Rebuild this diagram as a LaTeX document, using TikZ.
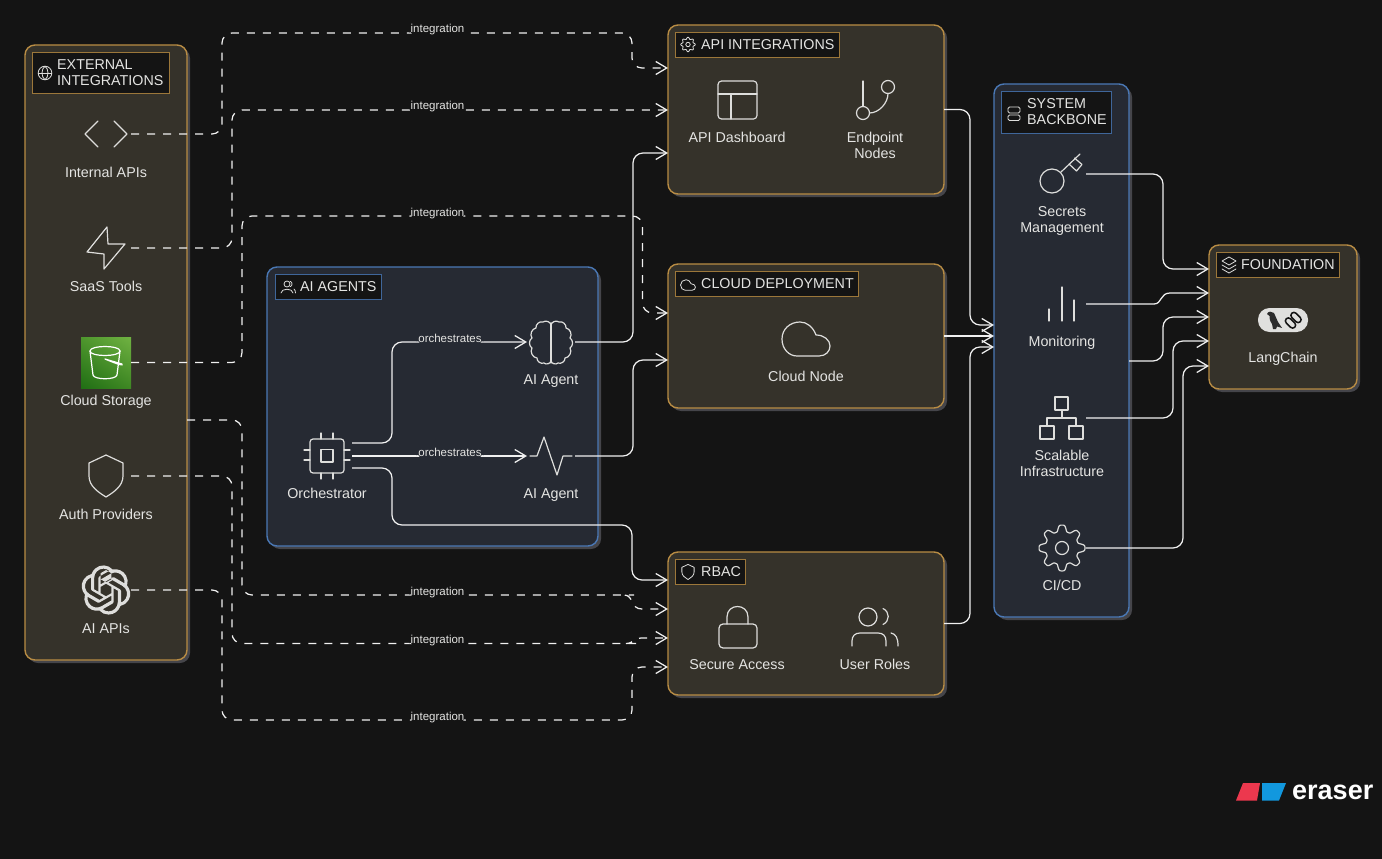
\documentclass[tikz,border=0pt]{standalone}
\usepackage{fontspec}
\setmainfont{Liberation Sans}
\usetikzlibrary{arrows.meta,shadows,shadings,svg.path}
\definecolor{bgc}{HTML}{141414}
\definecolor{orfill}{HTML}{35322A}
\definecolor{orline}{HTML}{B88C44}
\definecolor{blfill}{HTML}{262A33}
\definecolor{blline}{HTML}{4A78B5}
\definecolor{shc}{HTML}{45454A}
\definecolor{txtc}{HTML}{E4E4E2}
\definecolor{linec}{HTML}{F0F0F0}
\definecolor{icc}{HTML}{DEDEDC}
\definecolor{gll}{HTML}{206E14}
\definecolor{gur}{HTML}{70B242}
\definecolor{gul}{HTML}{4E962D}
\definecolor{glr}{HTML}{3E8723}
\definecolor{logor}{HTML}{EC384E}
\definecolor{logob}{HTML}{1298DE}
\newcommand\st{\rule[-3.5pt]{0pt}{14pt}}
\tikzset{
 grp/.style={rounded corners=10pt,line width=1.4pt,outer sep=0pt,inner sep=0pt,anchor=north west,
   drop shadow={shadow xshift=3pt,shadow yshift=-3pt,fill=shc,opacity=1}},
 orgrp/.style={grp,draw=orline,fill=orfill},
 blgrp/.style={grp,draw=blline,fill=blfill},
 ttl/.style={line width=.6pt,fill=bgc,outer sep=0pt,inner sep=0pt,anchor=north west},
 ortt/.style={ttl,draw=orline!85!black},
 bltt/.style={ttl,draw=blline!85!black},
 ttext/.style={text=txtc,font=\fontsize{14.3}{16}\selectfont,align=left,anchor=west,inner sep=0pt},
 lab/.style={text=txtc,font=\fontsize{14.3}{16}\selectfont,align=center,inner sep=0pt,yshift=-2pt},
 icn/.style={inner sep=0pt,outer sep=0pt,minimum width=#1,minimum height=30pt},
 icline/.style={draw=icc,line width=1.2pt,line join=round,line cap=round},
 smic/.style={draw=icc,line width=.8pt,line join=round,line cap=round},
 conn/.style={draw=linec,line width=1.25pt,rounded corners=10pt,
   -{Straight Barb[length=11pt,width=13pt,line width=1.25pt]}},
 dconn/.style={conn,dash pattern=on 8pt off 8pt},
 clab/.style={text=txtc,font=\fontsize{11.5}{13}\selectfont,inner sep=1.5pt,yshift=3pt,text height=8.5pt,text depth=2.5pt},
 ilab/.style={clab,fill=bgc},
 olab/.style={clab,fill=blfill},
}
\newcommand\cloudpath{(-9,17) -- (13,17) .. controls (20,17) and (24,12) .. (24,7) .. controls (24,1) and (18,-4) .. (10,-4) .. controls (7,-12) and (1,-17) .. (-6,-17) .. controls (-16,-17) and (-24,-10) .. (-24,0) .. controls (-24,10) and (-17,17) .. (-9,17) -- cycle}
\newcommand\shieldpath{(0,-21) -- (17,-13) -- (17,0) .. controls (17,10) and (8,16) .. (0,21) .. controls (-8,16) and (-17,10) .. (-17,0) -- (-17,-13) -- cycle}
\begin{document}
\begin{tikzpicture}[x=1pt,y=-1pt]
\useasboundingbox (0,0) rectangle (1382,859);
\fill[bgc] (0,0) rectangle (1382,859);

% groups
\node[orgrp,minimum width=162pt,minimum height=615pt] (ext) at (25,45) {};
\node[blgrp,minimum width=331pt,minimum height=279pt] (agents) at (267,267) {};
\node[orgrp,minimum width=276pt,minimum height=169pt] (api) at (668,25) {};
\node[orgrp,minimum width=276pt,minimum height=144pt] (cloud) at (668,264) {};
\node[orgrp,minimum width=276pt,minimum height=143pt] (rbac) at (668,552) {};
\node[blgrp,minimum width=135pt,minimum height=533pt] (back) at (994,84) {};
\node[orgrp,minimum width=148pt,minimum height=144pt] (found) at (1209,245) {};

% title boxes
\node[ortt,minimum width=137pt,minimum height=41pt] (t1) at (32,52) {};
\node[ttext] (t1x) at (57,72.5) {EXTERNAL\\INTEGRATIONS};
\node[bltt,minimum width=106pt,minimum height=25pt] (t2) at (275,274) {};
\node[ttext] (t2x) at (300,286.5) {AI AGENTS};
\node[ortt,minimum width=164pt,minimum height=25pt] (t3) at (675,32) {};
\node[ttext] (t3x) at (701,44.5) {API INTEGRATIONS};
\node[ortt,minimum width=183pt,minimum height=25pt] (t4) at (675,271) {};
\node[ttext] (t4x) at (701,283.5) {CLOUD DEPLOYMENT};
\node[ortt,minimum width=70pt,minimum height=25pt] (t5) at (675,559) {};
\node[ttext] (t5x) at (701,571.5) {RBAC};
\node[bltt,minimum width=110pt,minimum height=42pt] (t6) at (1001,91) {};
\node[ttext] (t6x) at (1027,111.5) {SYSTEM\\BACKBONE};
\node[ortt,minimum width=123pt,minimum height=25pt] (t7) at (1216,252) {};
\node[ttext] (t7x) at (1241,264.5) {FOUNDATION};

% title icons
\draw[smic] (45,73) circle (6.8);
\draw[smic] (45,66.2) .. controls (41,69) and (41,77) .. (45,79.8) .. controls (49,77) and (49,69) .. (45,66.2);
\draw[smic] (38.2,73) -- (51.8,73);
\draw[smic] (287,284) circle (3);
\draw[smic] (281,293) .. controls (281,288) and (293,288) .. (293,293);
\draw[smic] (290.5,281.5) .. controls (292.5,282) and (292.5,286) .. (290.5,286.5);
\draw[smic] (294,289) .. controls (295,290) and (295.5,291) .. (295.5,293);
\draw[smic] plot[domain=0:360,samples=65,smooth] ({688+(6.3+1*cos(8*\x))*cos(\x)},{44.5+(6.3+1*cos(8*\x))*sin(\x)});
\draw[smic] (688,44.5) circle (2.2);
\begin{scope}[shift={(688,285)},scale=.31] \draw[smic] \cloudpath; \end{scope}
\begin{scope}[shift={(688,572)},scale=.36] \draw[smic] \shieldpath; \end{scope}
\draw[smic,rounded corners=1.5pt] (1008,107) rectangle (1020,113);
\draw[smic,rounded corners=1.5pt] (1008,115) rectangle (1020,120.5);
\draw[smic] (1229,257) -- (1236,261) -- (1229,265) -- (1222,261) -- cycle;
\draw[smic] (1222,265) -- (1229,269) -- (1236,265);
\draw[smic] (1222,269) -- (1229,273) -- (1236,269);

% named icon holders
\node[icn=50pt] (intapi) at (106,134) {};
\node[icn=50pt] (saas) at (106,248) {};
\node[inner sep=0pt,outer sep=0pt,minimum width=50pt,minimum height=51pt,
      lower left=gll,upper right=gur,upper left=gul,lower right=glr] (storage) at (106,362.5) {};
\node[icn=50pt] (auth) at (106,476) {};
\node[icn=50pt] (aiapi) at (106,590) {};
\node[icn=50pt] (orch) at (327,456) {};
\node[icn=48pt] (brain) at (551,342) {};
\node[icn=48pt] (pulse) at (551,456) {};
\node[icn=48pt] (key) at (1062,174) {};
\node[icn=48pt] (monitor) at (1062,304) {};
\node[icn=48pt] (net) at (1062,418) {};
\node[icn=48pt] (gear) at (1062,548) {};

% external icons
\draw[icline] (98,121) -- (85,134) -- (98,147);
\draw[icline] (114,121) -- (127,134) -- (114,147);
\draw[icline] (107,227) -- (87,252) -- (104,254) -- (104,269) -- (125,244) -- (108,244) -- cycle;
\draw[icline,draw=white] (90,351) .. controls (90,345) and (120,345) .. (120,351) .. controls (120,357) and (90,357) .. (90,351);
\draw[icline,draw=white] (90,351) -- (93,375) .. controls (94,380) and (116,380) .. (117,375) -- (120,351);
\draw[icline,draw=white] (105,359) -- (122,364) .. controls (124,366) and (119,365) .. (105,359);
\begin{scope}[shift={(81.4,565.4)},xscale=2.05,yscale=-2.05]
\fill[icc] svg {M22.2819 9.8211a5.9847 5.9847 0 0 0-.5157-4.9108 6.0462 6.0462 0 0 0-6.5098-2.9A6.0651 6.0651 0 0 0 4.9807 4.1818a5.9847 5.9847 0 0 0-3.9977 2.9 6.0462 6.0462 0 0 0 .7427 7.0966 5.9847 5.9847 0 0 0 .511 4.9107 6.0462 6.0462 0 0 0 6.5146 2.9001A5.9847 5.9847 0 0 0 13.2599 24a6.0557 6.0557 0 0 0 5.7718-4.2058 5.9894 5.9894 0 0 0 3.9977-2.9001 6.0557 6.0557 0 0 0-.7475-7.0729zm-9.022 12.6081a4.4755 4.4755 0 0 1-2.8764-1.0408l.1419-.0804 4.7783-2.7582a.7948.7948 0 0 0 .3927-.6813v-6.7369l2.02 1.1686a.071.071 0 0 1 .038.052v5.5826a4.504 4.504 0 0 1-4.4945 4.4944zm-9.6607-4.1254a4.4708 4.4708 0 0 1-.5346-3.0137l.142.0852 4.783 2.7582a.7712.7712 0 0 0 .7806 0l5.8428-3.3685v2.3324a.0804.0804 0 0 1-.0332.0615L9.74 19.9502a4.4992 4.4992 0 0 1-6.1408-1.6464zM2.3408 7.8956a4.485 4.485 0 0 1 2.3655-1.9728V11.6a.7664.7664 0 0 0 .3879.6765l5.8144 3.3543-2.0201 1.1685a.0757.0757 0 0 1-.071 0l-4.8303-2.7865A4.504 4.504 0 0 1 2.3408 7.872zm16.5963 3.8558L13.1038 8.364 15.1192 7.2a.0757.0757 0 0 1 .071 0l4.8303 2.7913a4.4944 4.4944 0 0 1-.6765 8.1042v-5.6772a.79.79 0 0 0-.407-.667zm2.0107-3.0231l-.142-.0852-4.7735-2.7818a.7759.7759 0 0 0-.7854 0L9.409 9.2297V6.8974a.0662.0662 0 0 1 .0284-.0615l4.8303-2.7866a4.4992 4.4992 0 0 1 6.6802 4.66zM8.3065 12.863l-2.02-1.1638a.0804.0804 0 0 1-.038-.0567V6.0742a4.4992 4.4992 0 0 1 7.3757-3.4537l-.142.0805L8.704 5.459a.7948.7948 0 0 0-.3927.6813zm1.0976-2.3654l2.602-1.4998 2.6069 1.4998v2.9994l-2.5974 1.4997-2.6067-1.4997Z};
\end{scope}
\begin{scope}[shift={(81.4,565.4)},xscale=2.05,yscale=2.05]
\fill[orfill] (9.404,10.498) -- (12.006,8.998) -- (14.613,10.498) -- (14.613,13.497) -- (12.016,14.997) -- (9.409,13.497) -- cycle;
\end{scope}
\begin{scope}[shift={(106,476)}] \draw[icline] \shieldpath; \end{scope}
% agents icons
\draw[icline,rounded corners=3pt] (310,439) rectangle (344,473);
\draw[icline] (321,449.5) rectangle (333,462);
\foreach \x in {321,333}{\draw[icline] (\x,433) -- (\x,439); \draw[icline] (\x,473) -- (\x,479);}
\foreach \y in {450,460}{\draw[icline] (304,\y) -- (310,\y); \draw[icline] (344,\y) -- (350,\y);}
\draw[icline] (551,323) -- (551,363);
\draw[icline] (551,325) to[bend left=60] (559,322) to[bend left=60] (566,328) to[bend left=60] (570,338) to[bend left=60] (570,348) to[bend left=60] (565,358) to[bend left=60] (558,363) to[bend left=60] (551,361);
\draw[icline] (551,325) to[bend right=60] (543,322) to[bend right=60] (536,328) to[bend right=60] (532,338) to[bend right=60] (532,348) to[bend right=60] (537,358) to[bend right=60] (544,363) to[bend right=60] (551,361);
\draw[icline] (530,456) -- (537,456) -- (544,437) -- (557,475) -- (563,456) -- (572,456);
% api icons
\draw[icline,rounded corners=3.5pt] (718,81) rectangle (757,119);
\draw[icline] (718,94) -- (757,94) (731,94) -- (731,119);
\draw[icline] (863,81) -- (863,106.5);
\draw[icline] (863,113) circle (6.5);
\draw[icline] (888,87) circle (6.5);
\draw[icline] (888,93.5) .. controls (888,103) and (879,113) .. (869.5,113);
% cloud icon
\begin{scope}[shift={(806,339)}] \draw[icline] \cloudpath; \end{scope}
% rbac icons
\draw[icline,rounded corners=4pt] (719,624) rectangle (757,648);
\draw[icline] (727,624) -- (727,617) .. controls (727,603) and (748,603) .. (748,617) -- (748,624);
\draw[icline] (868,617) circle (9);
\draw[icline] (883,608.5) .. controls (890,612) and (890,621) .. (883,624.5);
\draw[icline] (852,646) -- (852,641) .. controls (852,636) and (855,633) .. (860,633) -- (878,633) .. controls (883,633) and (886,636) .. (886,641) -- (886,646);
\draw[icline] (891,633) .. controls (896,634) and (898,638) .. (898,646);
% backbone icons
\draw[icline] (1052,181) circle (12);
\draw[icline] (1061,172) -- (1080,154);
\draw[icline] (1074.5,158) -- (1082,164.5) -- (1076.5,171) -- (1069,164);
\draw[icline] (1049,309) -- (1049,321) (1062,287) -- (1062,321) (1074,300) -- (1074,321);
\draw[icline] (1055,397) rectangle (1068,410);
\draw[icline] (1040,426) rectangle (1054,439);
\draw[icline] (1069,426) rectangle (1083,439);
\draw[icline] (1062,410) -- (1062,418) (1047,426) -- (1047,418) -- (1076,418) -- (1076,426);
\draw[icline] plot[domain=0:360,samples=193] ({1062+(19.8+3.6*(cos(8*(\x-90))-cos(24*(\x-90))/7))*cos(\x)},{548+(19.8+3.6*(cos(8*(\x-90))-cos(24*(\x-90))/7))*sin(\x)}) -- cycle;
\draw[icline] (1062,548) circle (6.5);
% langchain
\node[fill=icc!95!white,rounded corners=11.5pt,minimum width=50pt,minimum height=24pt,inner sep=0pt,outer sep=0pt] (lc) at (1283,320) {};
\fill[bgc!90!white] (1267,314) .. controls (1268,311) and (1272,311) .. (1274,313) -- (1278,322) -- (1282,328) -- (1277,326.5) -- (1276,329) -- (1273,329) -- (1272,324) .. controls (1270,321) and (1269,318) .. (1269.5,316) -- cycle;
\draw[draw=bgc,line width=1.5pt,rounded corners=3pt,rotate around={-45:(1290.5,323)}] (1284.5,320) rectangle (1296.5,326);
\draw[draw=bgc,line width=1.5pt,rounded corners=3pt,rotate around={-45:(1296,317.5)}] (1290,314.5) rectangle (1302,320.5);

% connectors
\draw[dconn] (intapi.east) -- (222,134) -- (222,33) -- (437.5,33) node[ilab] (il1) {integration} -- (632,33) -- (632,68) -- ([yshift=-43pt]api.north west);
\draw[dconn] (saas.east) -- (232,248) -- (232,110) -- (437.5,110) node[ilab] (il2) {integration} -- ([yshift=-85pt]api.north west);
\draw[dconn] (storage.east) -- (242,362.5) -- (242,216) -- (437.5,216) node[ilab] (il3) {integration} -- (642.5,216) -- (642.5,313) -- ([yshift=-49pt]cloud.north west);
\draw[dconn] ([yshift=-67.5pt]ext.east) -- (242,420) -- (242,595) -- (437.5,595) node[ilab] (il4) {integration} -- (624,595) [sharp corners] -- (624.01,595) .. controls (634,595) and (630,609) .. (642,609) -- ([yshift=-57pt]rbac.north west);
\draw[dconn] (auth.east) -- (232,476) -- (232,643.5) -- (437.5,643.5) node[ilab] (il5) {integration} -- (626,643.5) [sharp corners] -- (626.01,643.5) .. controls (634,643.5) and (632,638) .. (642,638) -- ([yshift=-86pt]rbac.north west);
\draw[dconn] (aiapi.east) -- (222,590) -- (222,720) -- (437.5,720) node[ilab] (il6) {integration} -- (632,720) -- (632,667) -- ([yshift=-115pt]rbac.north west);

\draw[conn] ([yshift=13pt]orch.east) -- (392,443) -- (392,342) -- (450,342) node[olab] (ol1) {orchestrates} -- (brain.west);
\draw[conn] (orch.east) -- (450,456) node[olab] (ol2) {orchestrates} -- (pulse.west);
\draw[conn] ([yshift=-12pt]orch.east) -- (392,468) -- (392,525) -- (632,525) -- (632,580) -- ([yshift=-28pt]rbac.north west);
\draw[conn] (brain.east) -- (633,342) -- (633,153) -- ([yshift=-128pt]api.north west);
\draw[conn] (pulse.east) -- (633,456) -- (633,360) -- ([yshift=-96pt]cloud.north west);

\draw[conn] (api.east) -- (970,109.5) -- (970,325) -- ([yshift=-241pt]back.north west);
\draw[conn] (cloud.east) -- ([yshift=-252pt]back.north west);
\draw[conn] (rbac.east) -- (970,623.5) -- (970,347) -- ([yshift=-263pt]back.north west);

\draw[conn] (key.east) -- (1163,174) -- (1163,269) -- ([yshift=-24pt]found.north west);
\draw[conn,sharp corners] (monitor.east) -- (1154,304) .. controls (1162,304) and (1160,293) .. (1170,293) -- ([yshift=-48pt]found.north west);
\draw[conn] ([yshift=-10.5pt]back.east) -- (1163,361) -- (1163,317) -- ([yshift=-72pt]found.north west);
\draw[conn] (net.east) -- (1173,418) -- (1173,341) -- ([yshift=-96pt]found.north west);
\draw[conn] (gear.east) -- (1183,548) -- (1183,366) -- ([yshift=-121pt]found.north west);

% labels
\node[lab] (l1) at (106,172) {\st Internal APIs};
\node[lab] (l2) at (106,285.5) {\st SaaS Tools};
\node[lab] (l3) at (106,399.5) {\st Cloud Storage};
\node[lab] (l4) at (106,513.5) {\st Auth Providers};
\node[lab] (l5) at (106,627.5) {\st AI APIs};
\node[lab] (l6) at (327,493) {\st Orchestrator};
\node[lab] (l7) at (551,379) {\st AI Agent};
\node[lab] (l8) at (551,493) {\st AI Agent};
\node[lab] (l9) at (737,137) {\st API Dashboard};
\node[lab] (l10) at (875,145) {\st Endpoint\\\st Nodes};
\node[lab] (l11) at (806,376) {\st Cloud Node};
\node[lab] (l12) at (737,664) {\st Secure Access};
\node[lab] (l13) at (875,664) {\st User Roles};
\node[lab] (l14) at (1062,219) {\st Secrets\\\st Management};
\node[lab] (l15) at (1062,341) {\st Monitoring};
\node[lab] (l16) at (1062,463) {\st Scalable\\\st Infrastructure};
\node[lab] (l17) at (1062,585) {\st CI/CD};
\node[lab] (l18) at (1283,357) {\st LangChain};

% logo
\fill[logor] (1243,783) -- (1260,783) -- (1257,800.5) -- (1236,800.5) -- cycle;
\fill[logob] (1262,783) -- (1286,783) -- (1279,800.5) -- (1262,800.5) -- cycle;
\node[text=white,font=\fontsize{27}{30}\selectfont\bfseries,anchor=base west,inner sep=0pt] (logo) at (1292,799) {eraser};
\end{tikzpicture}
\end{document}
